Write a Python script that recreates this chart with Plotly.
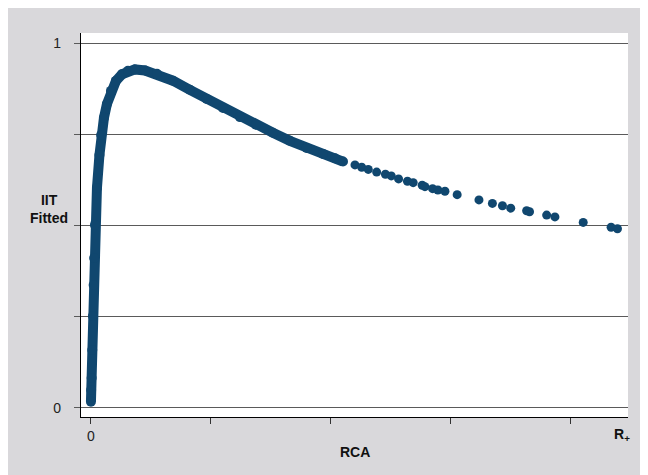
import plotly.graph_objects as go

# Dense fitted band, RCA vs IIT fitted
dense_x = [0.0, 0.0017, 0.0058, 0.0109, 0.0167, 0.0225, 0.0267, 0.0334, 0.0501, 0.071,
           0.0851, 0.1085, 0.1336, 0.167, 0.2087, 0.2588, 0.309, 0.367, 0.451, 0.551,
           0.684, 0.826, 0.966, 1.102, 1.244, 1.377, 1.519, 1.661, 1.800, 1.937,
           2.037, 2.104]
dense_y = [0.0165, 0.0486, 0.0816, 0.1585, 0.252, 0.337, 0.411, 0.502, 0.6036, 0.694,
           0.749, 0.796, 0.834, 0.870, 0.8975, 0.9154, 0.925, 0.929, 0.926, 0.917,
           0.898, 0.873, 0.848, 0.823, 0.798, 0.777, 0.755, 0.733, 0.713, 0.697,
           0.685, 0.676]

# Sparse observations at high RCA
sparse_x = [2.204, 2.260, 2.315, 2.385, 2.458, 2.507, 2.568, 2.642, 2.690, 2.765,
            2.788, 2.852, 2.896, 2.955, 3.057, 3.239, 3.351, 3.435, 3.504, 3.637,
            3.661, 3.804, 3.873, 4.109, 4.342, 4.395]
sparse_y = [0.6668, 0.6604, 0.6544, 0.647, 0.641, 0.6365, 0.6283, 0.622, 0.618, 0.611,
            0.607, 0.6016, 0.598, 0.5945, 0.585, 0.5706, 0.561, 0.5547, 0.548, 0.541,
            0.538, 0.529, 0.524, 0.5088, 0.4956, 0.4915]

x_label_vals = [0]
x_label_text = ["0"]
x_minor_vals = [1, 2, 3, 4]
y_label_vals = [0, 1]
y_label_text = ["0", "1"]
y_minor_vals = [0.25, 0.5, 0.75]

BLUE = "#10476f"
GREY_BG = "#d9d8db"
GRID = "#5a5a5a"
FONT = "Liberation Sans, Arial, sans-serif"

fig = go.Figure()
fig.add_trace(go.Scatter(x=dense_x, y=dense_y, mode="lines+markers",
                         line=dict(color=BLUE, width=10),
                         marker=dict(color=BLUE, size=10), hoverinfo="skip"))
fig.add_trace(go.Scatter(x=sparse_x, y=sparse_y, mode="markers",
                         marker=dict(color=BLUE, size=9), hoverinfo="skip"))

fig.update_layout(
    width=640, height=467,
    margin=dict(l=73, r=20, t=25, b=58),
    paper_bgcolor=GREY_BG, plot_bgcolor="white",
    showlegend=False,
    font=dict(family=FONT, size=14, color="#222222"),
    xaxis=dict(range=[-0.083, 4.483], showgrid=False, zeroline=False,
               showline=True, linecolor="black", linewidth=1.3,
               ticks="outside", ticklen=6, tickcolor="#333333", tickwidth=1,
               tickmode="array", tickvals=x_label_vals, ticktext=x_label_text,
               minor=dict(tickmode="array", tickvals=x_minor_vals, ticks="outside",
                          ticklen=6, tickcolor="#333333", tickwidth=1, showgrid=False),
               tickfont=dict(size=14, color="#222222")),
    yaxis=dict(range=[-0.0255, 1.029], showgrid=True, gridcolor=GRID, gridwidth=1.2,
               zeroline=False, showline=True, linecolor="black", linewidth=1.3,
               ticks="outside", ticklen=6, tickcolor=GRID, tickwidth=1.2,
               tickmode="array", tickvals=y_label_vals, ticktext=y_label_text,
               ticklabelstandoff=10,
               minor=dict(tickmode="array", tickvals=y_minor_vals, ticks="outside",
                          ticklen=6, tickcolor=GRID, tickwidth=1.2,
                          showgrid=True, gridcolor=GRID, gridwidth=1.2),
               tickfont=dict(size=14, color="#222222")),
    annotations=[
        dict(text="<b>RCA</b>", xref="paper", yref="paper", x=0.5, y=-0.091,
             showarrow=False, font=dict(size=14, color="#111111"), xanchor="center", yanchor="middle"),
        dict(text="<b>IIT</b><br><b>Fitted</b>", xref="paper", yref="paper", x=-0.0585, y=0.5417,
             showarrow=False, font=dict(size=14, color="#111111"), xanchor="center", yanchor="middle",
             align="center"),
        dict(text="<b>R<sub>+</sub></b>", xref="paper", yref="paper", x=0.989, y=-0.047,
             showarrow=False, font=dict(size=14, color="#111111"), xanchor="center", yanchor="middle"),
    ],
)

fig.write_html("out.html")
